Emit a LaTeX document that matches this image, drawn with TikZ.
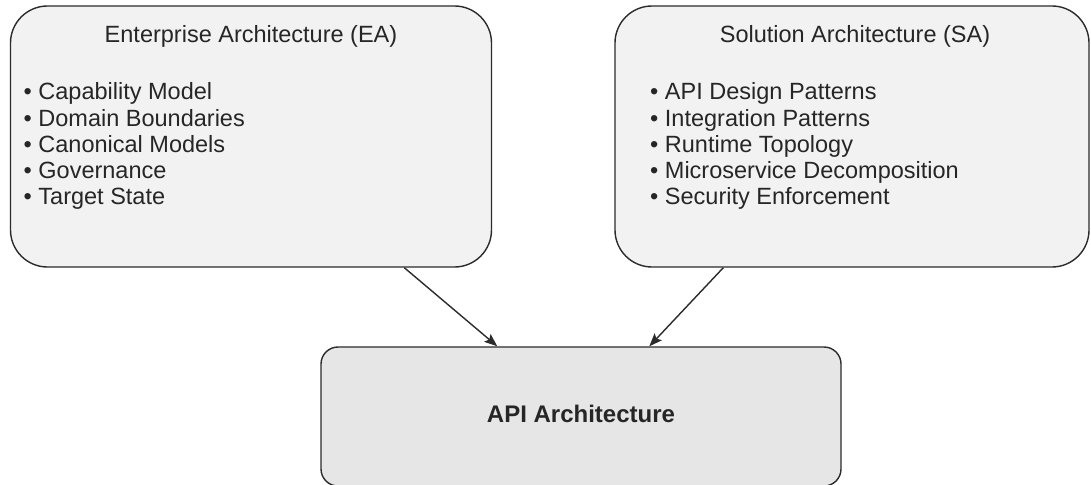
\documentclass[tikz,border=0pt]{standalone}
\usepackage{fontspec}
\setmainfont{Liberation Sans}
\usetikzlibrary{arrows.meta}
\definecolor{panelfill}{HTML}{F2F2F2}
\definecolor{corefill}{HTML}{E6E6E6}
\definecolor{edge}{HTML}{2B2B2B}
\definecolor{ink}{HTML}{262626}
\begin{document}
\begin{tikzpicture}[x=1pt,y=-1pt,
  panel/.style={draw=edge, line width=1.4pt, fill=panelfill, rounded corners=37pt, inner sep=0pt},
  core/.style={draw=edge, line width=1.4pt, fill=corefill, rounded corners=17pt, inner sep=0pt},
  heading/.style={anchor=base, inner sep=0pt, text=ink, font=\fontsize{23.5}{26}\selectfont},
  item/.style={anchor=base west, inner sep=0pt, text=ink, font=\fontsize{23.5}{26}\selectfont},
  link/.style={draw=edge, line width=1.4pt, -{Stealth[length=13pt,width=10pt,inset=2.5pt]}}]
\useasboundingbox (0,0) rectangle (1091,484);

% containers
\node[panel, minimum width=481pt, minimum height=261pt] (ea) at (251,136.5) {};
\node[panel, minimum width=474pt, minimum height=261pt] (sa) at (852,136.5) {};
\node[core, minimum width=520pt, minimum height=139pt] (api) at (581,416.5) {};

% enterprise architecture
\node[heading] (eaTitle) at (251,43) {Enterprise Architecture (EA)};
\node[item] (ea1) at (23.5,100) {• Capability Model};
\node[item] (ea2) at (23.5,126) {• Domain Boundaries};
\node[item] (ea3) at (23.5,152) {• Canonical Models};
\node[item] (ea4) at (23.5,178) {• Governance};
\node[item] (ea5) at (23.5,204) {• Target State};

% solution architecture
\node[heading] (saTitle) at (855,43) {Solution Architecture (SA)};
\node[item] (sa1) at (650,100) {• API Design Patterns};
\node[item] (sa2) at (650,126) {• Integration Patterns};
\node[item] (sa3) at (650,152) {• Runtime Topology};
\node[item] (sa4) at (650,178) {• Microservice Decomposition};
\node[item] (sa5) at (650,204) {• Security Enforcement};

% api architecture
\node[heading, font=\fontsize{24}{26}\selectfont\bfseries] (apiTitle) at (581,422) {API Architecture};

% connectors
\draw[link] ([xshift=394.5pt]ea.south west) -- ([xshift=177pt]api.north west);
\draw[link] ([xshift=109pt]sa.south west) -- ([xshift=329pt]api.north west);
\end{tikzpicture}
\end{document}
